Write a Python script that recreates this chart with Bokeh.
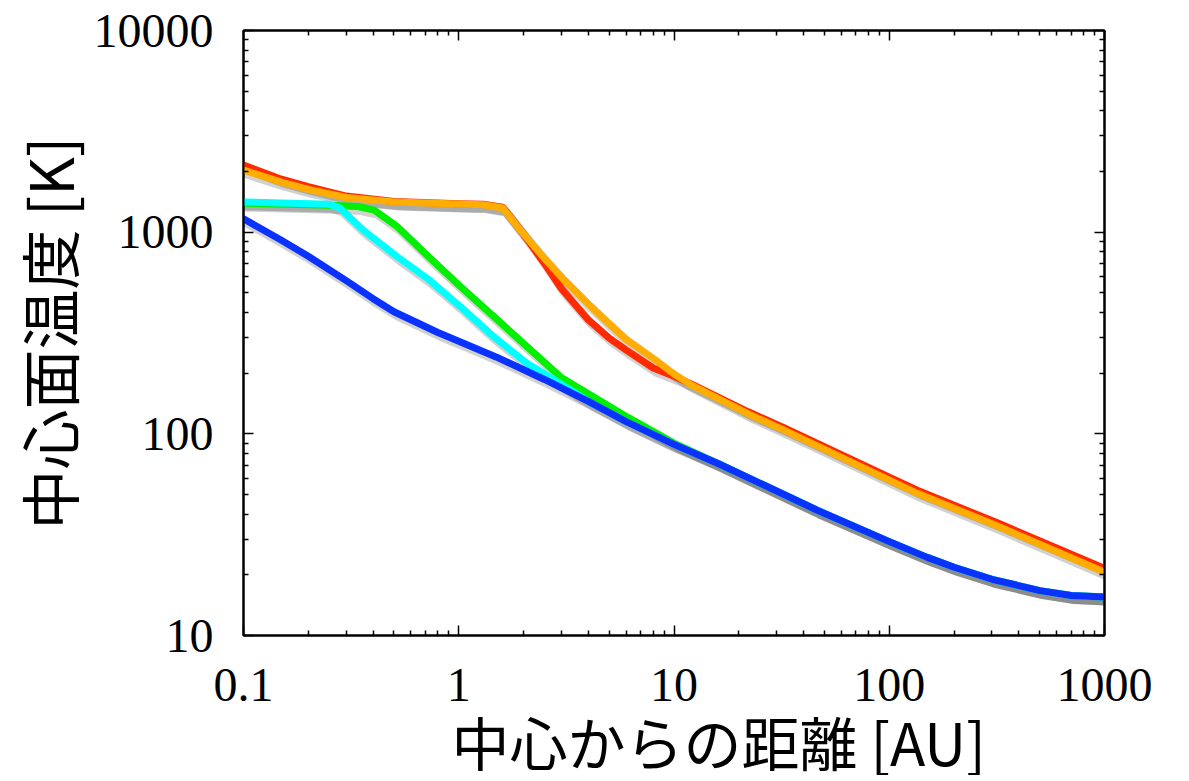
import numpy as np
from bokeh.plotting import figure
from bokeh.models import FixedTicker, LogAxis, CustomJSTickFormatter, Title
from bokeh.embed import file_html
from bokeh.resources import INLINE

# ---- data (distance [AU], midplane temperature [K]) ----
r_rd = [0.1, 0.15, 0.2, 0.3, 0.5, 1.0, 1.3, 1.6, 2.0, 2.5, 3.0, 4.0, 5.0, 6.0, 8.0, 10, 12, 22, 32.6, 100, 135, 316, 1000]
T_red = [2153, 1830, 1680, 1510, 1420, 1385, 1375, 1330, 977, 700, 524, 367, 298, 260, 212, 193, 177, 129, 107, 61, 52.5, 36.3, 21.5]
T_orange = [2032, 1770, 1630, 1486, 1413, 1380, 1368, 1318, 980, 741, 598, 440, 351, 294, 237, 198, 175, 126, 104, 59, 50.7, 35.0, 20.6]

r_green = [0.1, 0.25, 0.34, 0.405, 0.52, 0.72, 1.02, 1.46, 2.08, 2.98, 4.26, 6.08, 10, 16, 25, 46, 100, 150, 200, 300, 500, 700, 1000]
T_green = [1393, 1361, 1340, 1285, 1062, 760, 536, 380, 270, 191, 152, 121, 90, 71.3, 57, 41.9, 29.2, 24.4, 21.8, 19.0, 16.7, 15.8, 15.5]

r_cyan = [0.1, 0.25, 0.28, 0.36, 0.52, 0.72, 1.02, 1.46, 2.08, 2.67, 4, 6, 10, 16, 25, 46, 100, 150, 200, 300, 500, 700, 1000]
T_cyan = [1413, 1377, 1318, 1023, 753, 586, 426, 302, 223, 190, 145, 115, 88.7, 71.3, 57, 41.9, 29.2, 24.4, 21.8, 19.0, 16.7, 15.8, 15.5]

r_blue = [0.1, 0.15, 0.2, 0.3, 0.4, 0.5, 0.8, 1, 1.5, 2.5, 4, 6, 10, 16, 25, 46, 100, 150, 200, 300, 500, 700, 1000]
T_blue = [1165, 912, 760, 575, 468, 403, 318, 288, 240, 186, 145, 115, 88.7, 71.3, 57, 41.9, 29.2, 24.4, 21.8, 19.0, 16.7, 15.8, 15.5]

x_major = [0.1, 1, 10, 100, 1000]
y_major = [10, 100, 1000, 10000]

x_label = "中心からの距離 [AU]"
y_label = "中心面温度 [K]"

series = [
    (r_green, T_green, "#00f000"),
    (r_cyan, T_cyan, "#00ffff"),
    (r_blue, T_blue, "#0a32ff"),
    (r_rd, T_red, "#ff2a00"),
    (r_rd, T_orange, "#ffad00"),
]

x_minor = [m * 10.0 ** k for k in range(-1, 3) for m in range(2, 10)]
y_minor = [m * 10.0 ** k for k in range(1, 4) for m in range(2, 10)]

p = figure(
    x_axis_type="log", y_axis_type="log",
    x_range=(0.1, 1000), y_range=(10, 10000),
    frame_width=861, frame_height=605,
    min_border_left=238, min_border_top=30, min_border_right=60, min_border_bottom=100,
    output_backend="svg", toolbar_location=None,
    background_fill_color="white", border_fill_color="white",
)
p.grid.visible = False
p.outline_line_color = "black"
p.outline_line_width = 2

fmt = CustomJSTickFormatter(code="return tick.toString();")

def style_axis(ax, labels=True):
    ax.axis_line_width = 2
    ax.axis_line_color = "black"
    ax.major_tick_in = 10
    ax.major_tick_out = 0
    ax.minor_tick_in = 5
    ax.minor_tick_out = 0
    ax.major_tick_line_width = 1.5
    ax.minor_tick_line_width = 1.5
    ax.major_tick_line_color = "black"
    ax.minor_tick_line_color = "black"
    if labels:
        ax.formatter = fmt
        ax.major_label_text_font = "Liberation Serif"
        ax.major_label_text_font_size = "48px"
        ax.major_label_text_color = "black"
    else:
        ax.major_label_text_font_size = "0px"
        ax.major_label_standoff = 0
        ax.major_label_text_alpha = 0

xt = FixedTicker(ticks=x_major, minor_ticks=x_minor)
yt = FixedTicker(ticks=y_major, minor_ticks=y_minor)

p.xaxis.ticker = xt
p.yaxis.ticker = yt
for ax in p.xaxis:
    style_axis(ax)
    ax.major_label_standoff = 33
for ax in p.yaxis:
    style_axis(ax)
    ax.major_label_standoff = 30
    ax.axis_label = y_label
    ax.axis_label_text_font = "Noto Sans CJK JP"
    ax.axis_label_text_font_style = "normal"
    ax.axis_label_text_font_size = "60px"
    ax.axis_label_text_color = "black"
    ax.axis_label_standoff = 0

top = LogAxis(ticker=xt)
style_axis(top, labels=False)
p.add_layout(top, "above")
right = LogAxis(ticker=yt)
style_axis(right, labels=False)
p.add_layout(right, "right")

# x-axis title, placed below the tick labels (slightly right of centre, as in the original)
t = Title(text=x_label, align="left", offset=208, standoff=-14,
          text_font="Noto Sans CJK JP", text_font_size="58px",
          text_font_style="normal", text_color="black")
p.add_layout(t, "below")

# drop shadows (a few pixels right/down of each curve)
dx = 10 ** (3 / 215.25)
dy = 10 ** (-4 / 201.5)
for r, T, c in series:
    p.line(np.array(r) * dx, np.array(T) * dy, line_color="black", line_alpha=0.18,
           line_width=9, line_join="round", line_cap="round")
for r, T, c in series:
    p.line(r, T, line_color=c, line_width=7, line_join="round", line_cap="round")

open("out.html", "w").write(file_html(p, INLINE))
